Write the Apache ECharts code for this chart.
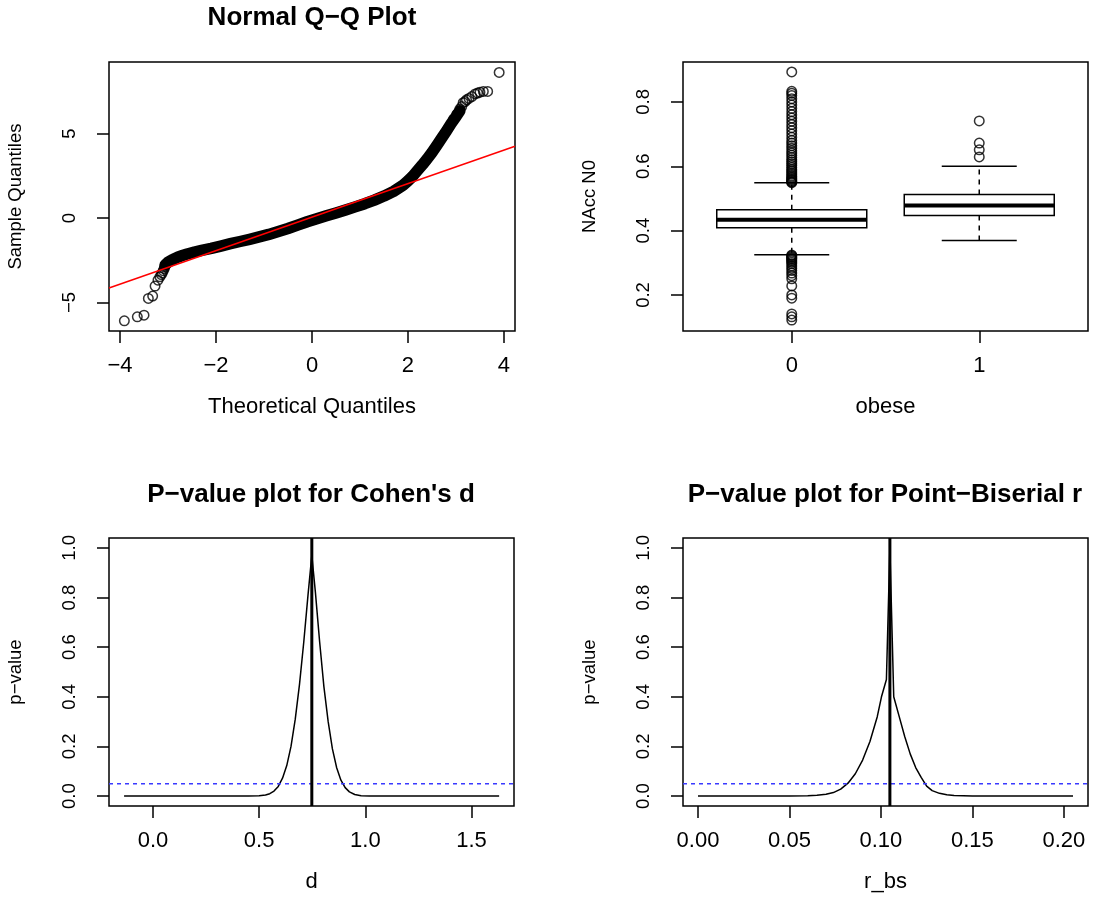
<!DOCTYPE html>
<html><head><meta charset="utf-8">
<script src="https://cdn.jsdelivr.net/npm/echarts@6/dist/echarts.min.js"></script>
<style>html,body{margin:0;padding:0;background:#fff}#c{width:1095px;height:903px}</style>
</head><body><div id="c"></div>
<script>
// ---------- Normal Q-Q plot ----------
const qqBandX = [-3.06,-3.0,-2.9,-2.8,-2.7,-2.6,-2.45,-2.3,-2.1,-1.9,-1.7,-1.5,-1.3,-1.1,-0.9,-0.7,-0.5,-0.3,-0.1,0.1,0.3,0.5,0.7,0.9,1.1,1.3,1.5,1.7,1.9,2.0,2.1,2.2,2.3,2.4,2.5,2.6,2.7,2.8,2.9,3.0,3.08];
const qqBandY = [-2.78,-2.62,-2.45,-2.32,-2.22,-2.13,-2.02,-1.92,-1.80,-1.66,-1.52,-1.39,-1.26,-1.12,-0.97,-0.80,-0.62,-0.42,-0.22,-0.04,0.13,0.30,0.48,0.66,0.85,1.06,1.30,1.58,1.95,2.2,2.48,2.82,3.15,3.5,3.88,4.3,4.72,5.15,5.6,6.0,6.35];
const qqTailX = [-3.91,-3.64,-3.50,-3.41,-3.32,-3.27,-3.21,-3.17,-3.14,-3.12,-3.10,-3.08,-3.07,2.95,3.02,3.08,3.12,3.15,3.19,3.22,3.27,3.33,3.40,3.45,3.50,3.57,3.66,3.90];
const qqTailY = [-6.09,-5.85,-5.75,-4.76,-4.62,-4.03,-3.68,-3.48,-3.35,-3.25,-3.12,-3.0,-2.9,5.85,6.15,6.45,6.6,6.83,6.9,7.0,7.08,7.19,7.35,7.4,7.45,7.5,7.5,8.62];
const qqLineX = [-4.23, 4.23];
const qqLineY = [-4.14, 4.25];
const qqXTicks = [-4,-2,0,2,4];
const qqYTicks = [-5,0,5];

// ---------- Boxplot NAcc N0 by obese ----------
const boxCategories = ['0','1'];
const boxLow    = [0.325, 0.369];
const boxQ1     = [0.409, 0.447];
const boxMedian = [0.434, 0.478];
const boxQ3     = [0.465, 0.512];
const boxHigh   = [0.549, 0.600];
const outliers0 = [0.549,0.551,0.553,0.556,0.559,0.562,0.566,0.57,0.575,0.58,0.585,0.59,0.596,0.602,0.608,0.614,0.62,0.627,0.634,0.641,0.648,0.656,0.664,0.672,0.68,0.69,0.70,0.71,0.72,0.73,0.74,0.75,0.76,0.77,0.78,0.79,0.80,0.81,0.82,0.827,0.833,0.893,
                   0.324,0.322,0.319,0.316,0.313,0.31,0.306,0.302,0.297,0.29,0.283,0.276,0.268,0.26,0.25,0.228,0.2,0.19,0.141,0.132,0.122];
const outliers1 = [0.741,0.672,0.651,0.629];
const boxYTicks = [0.2,0.4,0.6,0.8];

// ---------- P-value curve, Cohen's d ----------
const dValues  = [-0.136,0.1,0.3,0.45,0.5,0.53,0.55,0.57,0.59,0.61,0.63,0.65,0.67,0.69,0.71,0.73,0.748,0.765,0.785,0.805,0.825,0.845,0.865,0.885,0.905,0.925,0.95,0.98,1.02,1.1,1.3,1.63];
const dPValues = [0,0,0,0.0001,0.0012,0.0044,0.0096,0.020,0.039,0.072,0.123,0.20,0.31,0.45,0.62,0.81,0.97,0.82,0.62,0.44,0.30,0.19,0.114,0.064,0.034,0.017,0.0063,0.0017,0.0002,0,0,0];
const dObserved = 0.748;
const dXTicks = [0,0.5,1,1.5];

// ---------- P-value curve, point-biserial r ----------
const rValues  = [0,0.03,0.05,0.06,0.065,0.07,0.074,0.078,0.082,0.086,0.09,0.094,0.098,0.1003,0.103,0.1049,0.107,0.11,0.113,0.116,0.119,0.122,0.125,0.128,0.132,0.136,0.14,0.15,0.17,0.205];
const rPValues = [0,0,0,0.001,0.003,0.007,0.014,0.028,0.052,0.09,0.145,0.22,0.32,0.40,0.47,1.0,0.40,0.32,0.24,0.17,0.115,0.075,0.04,0.022,0.011,0.005,0.002,0,0,0];
const rObserved = 0.1049;
const rXTicks = [0,0.05,0.1,0.15,0.2];

const pYTicks = [0,0.2,0.4,0.6,0.8,1.0];
const alphaLevel = 0.05;

// ---------- layout / style ----------
const FF = 'Liberation Sans, Arial, Helvetica, sans-serif';
const FSX = 22, FSY = 18.5, TFS = 26;
const zip = (a,b) => a.map((v,i)=>[v,b[i]]);
const minus = s => s.replace('-', '\u2212');

const AX = {
  qqX:[-4.23, 4.23], qqY:[-6.69, 9.24],
  bxX:[0.42, 2.58],  bxY:[0.088, 0.924],
  dX:[-0.207, 1.70], pY:[-0.04, 1.04],
  rX:[-0.0082, 0.2132]
};

function xAx(gi, ext, ticks, fmt, name) {
  return {type:'value', gridIndex:gi, min:ext[0], max:ext[1], name, nameLocation:'middle', nameGap:65,
    nameTextStyle:{fontSize:FSX, fontFamily:FF, color:'#000'},
    axisLine:{show:false, onZero:false}, splitLine:{show:false},
    axisTick:{show:true, length:12, customValues:ticks, lineStyle:{color:'#000', width:1.5}},
    axisLabel:{customValues:ticks, formatter:fmt, margin:24, fontSize:FSX, fontFamily:FF, color:'#000'}};
}
function yAx(gi, ext, ticks, fmt, name) {
  return {type:'value', gridIndex:gi, min:ext[0], max:ext[1], name, nameLocation:'middle', nameGap:84,
    nameTextStyle:{fontSize:FSY, fontFamily:FF, color:'#000'},
    axisLine:{show:false, onZero:false}, splitLine:{show:false},
    axisTick:{show:true, length:12, customValues:ticks, lineStyle:{color:'#000', width:1.5}},
    axisLabel:{customValues:ticks, formatter:fmt, rotate:90, margin:30, fontSize:FSY, fontFamily:FF, color:'#000'}};
}
const gridBase = {show:true, borderColor:'#000', borderWidth:1.5, containLabel:false};
const circleStyle = {color:'rgba(0,0,0,0)', borderColor:'#000', borderWidth:1.5};
const titleStyle = {fontSize:TFS, fontWeight:'bold', fontFamily:FF, color:'#000'};

function refLines(gi, xExt, obs) {
  return [
    {type:'line', xAxisIndex:gi, yAxisIndex:gi, data:[[xExt[0], alphaLevel],[xExt[1], alphaLevel]], showSymbol:false, silent:true,
     lineStyle:{width:1.5, color:'#3a3aff', type:[4,4]}},
    {type:'line', xAxisIndex:gi, yAxisIndex:gi, data:[[obs, AX.pY[0]],[obs, AX.pY[1]]], showSymbol:false, silent:true,
     lineStyle:{width:3, color:'#000'}}
  ];
}

const option = {
  animation:false,
  backgroundColor:'#fff',
  title:[
    {text:'Normal Q\u2212Q Plot', left:312, top:5, textAlign:'center', padding:0, textStyle:titleStyle},
    {text:"P\u2212value plot for Cohen's d", left:311, top:482, textAlign:'center', padding:0, textStyle:titleStyle},
    {text:'P\u2212value plot for Point\u2212Biserial r', left:885, top:482, textAlign:'center', padding:0, textStyle:titleStyle}
  ],
  grid:[
    Object.assign({left:109, top:62, width:406, height:269}, gridBase),
    Object.assign({left:683, top:62, width:405, height:269}, gridBase),
    Object.assign({left:109, top:538, width:405, height:268}, gridBase),
    Object.assign({left:683, top:538, width:405, height:268}, gridBase)
  ],
  xAxis:[
    xAx(0, AX.qqX, qqXTicks, v=>minus(String(v)), 'Theoretical Quantiles'),
    xAx(1, AX.bxX, [1,2], v=>boxCategories[Math.round(v)-1], 'obese'),
    xAx(2, AX.dX, dXTicks, v=>v.toFixed(1), 'd'),
    xAx(3, AX.rX, rXTicks, v=>v.toFixed(2), 'r_bs')
  ],
  yAxis:[
    yAx(0, AX.qqY, qqYTicks, v=>minus(String(v)), 'Sample Quantiles'),
    yAx(1, AX.bxY, boxYTicks, v=>v.toFixed(1), 'NAcc N0'),
    yAx(2, AX.pY, pYTicks, v=>v.toFixed(1), 'p\u2212value'),
    yAx(3, AX.pY, pYTicks, v=>v.toFixed(1), 'p\u2212value')
  ],
  series:[
    {type:'line', xAxisIndex:0, yAxisIndex:0, data:zip(qqBandX,qqBandY), showSymbol:false, silent:true,
     lineStyle:{width:11.5, color:'#000', cap:'round', join:'round'}},
    {type:'scatter', xAxisIndex:0, yAxisIndex:0, data:zip(qqTailX,qqTailY), symbol:'circle', symbolSize:9.5, silent:true, itemStyle:circleStyle},
    {type:'line', xAxisIndex:0, yAxisIndex:0, data:zip(qqLineX,qqLineY), showSymbol:false, silent:true,
     lineStyle:{width:1.5, color:'#ff0000'}},
    {type:'custom', xAxisIndex:1, yAxisIndex:1, silent:true,
     data: boxCategories.map((c,i)=>[i+1, boxLow[i], boxQ1[i], boxMedian[i], boxQ3[i], boxHigh[i]]),
     encode:{x:0, y:[1,2,3,4,5]},
     renderItem:function(params, api){
       const x = api.value(0);
       const lo = api.coord([x, api.value(1)]);
       const q1 = api.coord([x, api.value(2)]);
       const md = api.coord([x, api.value(3)]);
       const q3 = api.coord([x, api.value(4)]);
       const hi = api.coord([x, api.value(5)]);
       const hw = api.size([0.8, 0])[0] / 2;
       const cx = lo[0];
       const st = {stroke:'#000', lineWidth:1.5, fill:null};
       return {type:'group', children:[
         {type:'line', shape:{x1:cx, y1:q3[1], x2:cx, y2:hi[1]}, style:{stroke:'#000', lineWidth:1.5, lineDash:[5,5]}},
         {type:'line', shape:{x1:cx, y1:q1[1], x2:cx, y2:lo[1]}, style:{stroke:'#000', lineWidth:1.5, lineDash:[5,5]}},
         {type:'line', shape:{x1:cx-hw/2, y1:hi[1], x2:cx+hw/2, y2:hi[1]}, style:st},
         {type:'line', shape:{x1:cx-hw/2, y1:lo[1], x2:cx+hw/2, y2:lo[1]}, style:st},
         {type:'rect', shape:{x:cx-hw, y:q3[1], width:2*hw, height:q1[1]-q3[1]}, style:{stroke:'#000', lineWidth:1.5, fill:'#fff'}},
         {type:'line', shape:{x1:cx-hw, y1:md[1], x2:cx+hw, y2:md[1]}, style:{stroke:'#000', lineWidth:4}}
       ]};
     }},
    {type:'scatter', xAxisIndex:1, yAxisIndex:1, data:outliers0.map(v=>[1,v]), symbol:'circle', symbolSize:9.5, silent:true, itemStyle:circleStyle},
    {type:'scatter', xAxisIndex:1, yAxisIndex:1, data:outliers1.map(v=>[2,v]), symbol:'circle', symbolSize:9.5, silent:true, itemStyle:circleStyle},
    {type:'line', xAxisIndex:2, yAxisIndex:2, data:zip(dValues,dPValues), showSymbol:false, silent:true,
     lineStyle:{width:1.5, color:'#000'}},
    ...refLines(2, AX.dX, dObserved),
    {type:'line', xAxisIndex:3, yAxisIndex:3, data:zip(rValues,rPValues), showSymbol:false, silent:true,
     lineStyle:{width:1.5, color:'#000'}},
    ...refLines(3, AX.rX, rObserved)
  ]
};
const chart = echarts.init(document.getElementById('c'));
chart.setOption(option);
</script></body></html>
